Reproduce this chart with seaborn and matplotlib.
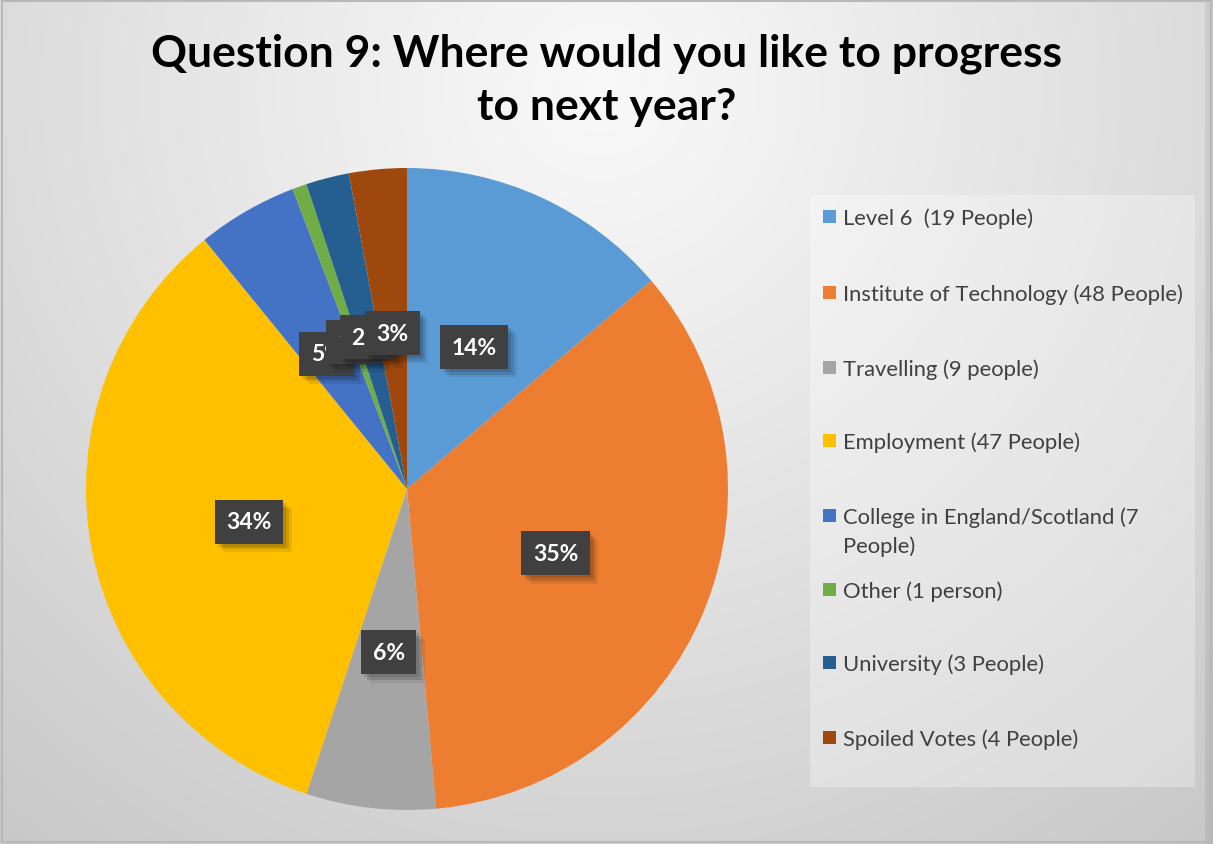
import numpy as np
import matplotlib
matplotlib.use("Agg")
import matplotlib.pyplot as plt
import matplotlib.patheffects as pe
from matplotlib.patches import Rectangle
import seaborn as sns

# Survey answers
categories = [
    "Level 6  (19 People)",
    "Institute of Technology (48 People)",
    "Travelling (9 people)",
    "Employment (47 People)",
    "College in England/Scotland (7\nPeople)",
    "Other (1 person)",
    "University (3 People)",
    "Spoiled Votes (4 People)",
]
counts = [19, 48, 9, 47, 7, 1, 3, 4]
pct_labels = ["14%", "35%", "6%", "34%", "5%", "1%", "2%", "3%"]
slice_colors = ["#5B9BD5", "#ED7D31", "#A5A5A5", "#FFC000",
                "#4472C4", "#70AD47", "#255E91", "#9E480E"]
title = "Question 9: Where would you like to progress\nto next year?"

sns.set_theme(style="white")
plt.rcParams["font.family"] = ["Lato", "DejaVu Sans"]
palette = sns.color_palette(slice_colors)

W, H = 1213, 845
fig = plt.figure(figsize=(W / 100, H / 100), dpi=100)

# Radial grey background
bg = fig.add_axes([0, 0, 1, 1], zorder=-10)
yy, xx = np.mgrid[0:H, 0:W]
d = np.hypot(xx - 600, yy - 90)
shade = np.clip(0.975 - 0.19 * (d / 960) ** 1.1, 0, 1)
img = np.dstack([shade, shade, shade])
img[:, 1205:] *= 0.93
bg.imshow(img, extent=[0, W, H, 0], aspect="auto", interpolation="bilinear")
bg.set_xlim(0, W)
bg.set_ylim(H, 0)
bg.add_patch(Rectangle((1.5, 1.5), W - 4, H - 4, fill=False,
                       edgecolor="#B8B8B8", linewidth=1.5))
bg.axis("off")

# Pie
cx, cy, r = 407, 490, 321
ax = fig.add_axes([(cx - r) / W, (H - cy - r) / H, 2 * r / W, 2 * r / H])
wedges, _ = ax.pie(counts, colors=palette, startangle=90, counterclock=False,
                   radius=1, wedgeprops=dict(linewidth=0))
ax.set_xlim(-1, 1)
ax.set_ylim(-1, 1)
ax.set_aspect("equal")
ax.axis("off")

# Percentage callouts: dark boxes with a soft drop shadow
box_shadow = [
    pe.SimplePatchShadow(offset=(2, -2), shadow_rgbFace="black", alpha=0.12),
    pe.SimplePatchShadow(offset=(4, -4), shadow_rgbFace="black", alpha=0.12),
    pe.SimplePatchShadow(offset=(6, -6), shadow_rgbFace="black", alpha=0.08),
    pe.Normal(),
]
for i, (w, lab) in enumerate(zip(wedges, pct_labels)):
    ang = np.deg2rad((w.theta1 + w.theta2) / 2)
    x, y = 0.5 * np.cos(ang), 0.5 * np.sin(ang)
    t = ax.text(x, y - 0.012, lab, ha="center", va="center", fontsize=16.5,
                fontweight="bold", color="white", zorder=4 + i,
                bbox=dict(boxstyle="square,pad=0.5", facecolor="#404040",
                          edgecolor="none"))
    t.get_bbox_patch().set_path_effects(box_shadow)

# Title
fig.text(0.5, 1 - 80 / H, title, ha="center", va="center", fontsize=32,
         fontweight="bold", color="black", linespacing=1.4)

# Legend panel
leg = fig.add_axes([0, 0, 1, 1], zorder=5)
leg.set_xlim(0, W)
leg.set_ylim(H, 0)
leg.axis("off")
leg.add_patch(Rectangle((810, 196), 385, 592, facecolor="white",
                        edgecolor="none", alpha=0.3))
rows = [217, 293, 368, 441, 516, 590, 663, 738]
for lab, col, ry in zip(categories, palette, rows):
    leg.add_patch(Rectangle((823, ry - 6.5), 13, 13, facecolor=col,
                            edgecolor="none"))
    leg.text(843, ry - 9, lab, ha="left", va="top", fontsize=15.8,
             color="#404040", linespacing=1.55)

fig.savefig("out.png", dpi=100)
